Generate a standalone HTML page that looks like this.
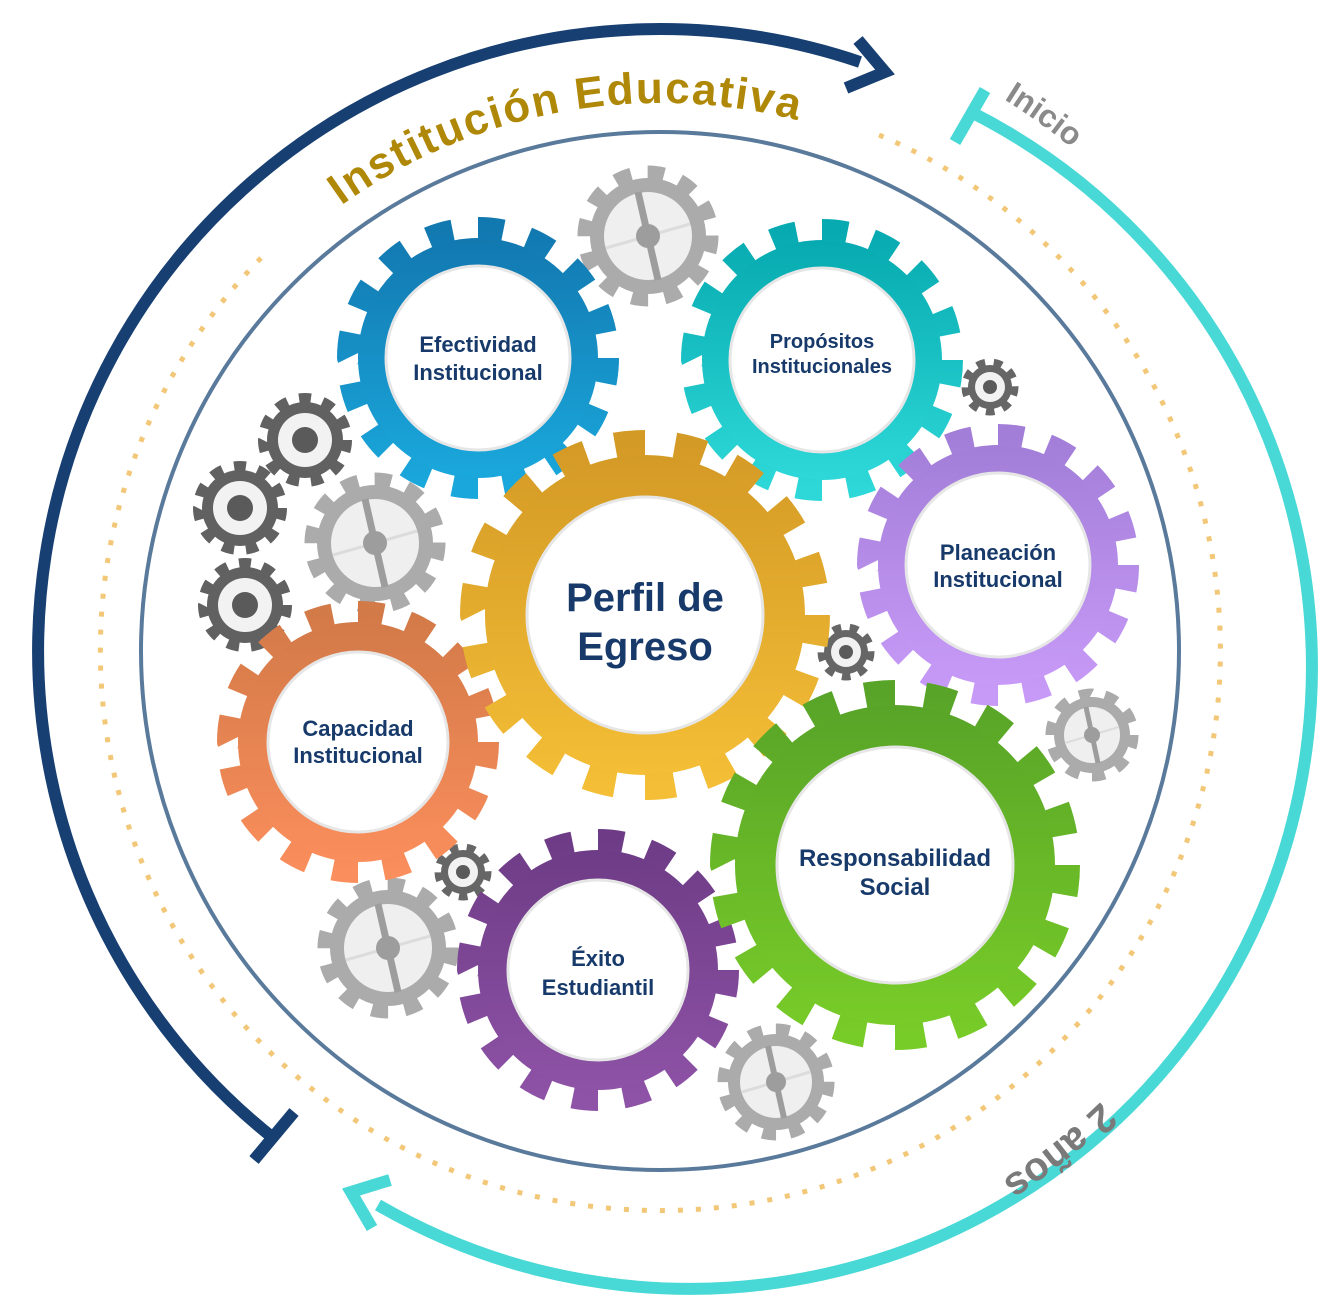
<!DOCTYPE html>
<html><head><meta charset="utf-8"><style>
html,body{margin:0;padding:0;background:#fff;}
svg{display:block;}
text{font-family:"Liberation Sans",sans-serif;}
.lb{fill:#173a6b;font-weight:bold;text-anchor:middle;}
</style></head><body>
<svg width="1320" height="1307" viewBox="0 0 1320 1307" xmlns="http://www.w3.org/2000/svg">
<defs>
<linearGradient id="gGold" x1="0" y1="0" x2="0" y2="1"><stop offset="0" stop-color="#d49a26"/><stop offset="1" stop-color="#f4be36"/></linearGradient>
<linearGradient id="gBlue" x1="0" y1="0" x2="0" y2="1"><stop offset="0" stop-color="#1278b0"/><stop offset="1" stop-color="#1aa8dc"/></linearGradient>
<linearGradient id="gTeal" x1="0" y1="0" x2="0" y2="1"><stop offset="0" stop-color="#06aab0"/><stop offset="1" stop-color="#2ed8d8"/></linearGradient>
<linearGradient id="gPurp" x1="0" y1="0" x2="0" y2="1"><stop offset="0" stop-color="#a27ed8"/><stop offset="1" stop-color="#c89af8"/></linearGradient>
<linearGradient id="gOr" x1="0" y1="0" x2="0" y2="1"><stop offset="0" stop-color="#d27a48"/><stop offset="1" stop-color="#fa8e5c"/></linearGradient>
<linearGradient id="gGr" x1="0" y1="0" x2="0" y2="1"><stop offset="0" stop-color="#58a428"/><stop offset="1" stop-color="#78cc28"/></linearGradient>
<linearGradient id="gVi" x1="0" y1="0" x2="0" y2="1"><stop offset="0" stop-color="#6e3c86"/><stop offset="1" stop-color="#8e52a6"/></linearGradient>
<path id="pTitle" d="M338,208 A548,548 0 0 1 934,176" fill="none"/>
<path id="pInicio" d="M985,88 A650,650 0 0 1 1271,429" fill="none"/>
<path id="pAnos" d="M1143,1056 A630,630 0 0 1 770,1271" fill="none"/>
</defs>

<circle cx="660" cy="651" r="519" fill="none" stroke="#5a7a9c" stroke-width="4"/>
<path d="M879,135 A560,560 0 1 1 267,252" fill="none" stroke="#f2c778" stroke-width="5" stroke-dasharray="5 13"/>

<path d="M277,1141 A622,622 0 0 1 860,62" fill="none" stroke="#173f72" stroke-width="12"/>
<polyline points="858,40 885,72 846,88" fill="none" stroke="#173f72" stroke-width="12" stroke-linejoin="miter"/>
<line x1="294" y1="1112" x2="254" y2="1160" stroke="#173f72" stroke-width="12"/>
<path d="M971,112 A622,622 0 1 1 378,1205" fill="none" stroke="#48d8d6" stroke-width="12"/>
<polyline points="390,1180 351,1192 372,1228" fill="none" stroke="#48d8d6" stroke-width="12"/>
<line x1="955" y1="142" x2="985" y2="90" stroke="#48d8d6" stroke-width="12"/>

<text font-size="44" font-weight="bold" fill="#b08808" letter-spacing="1"><textPath href="#pTitle" startOffset="4" textLength="480">Institución Educativa</textPath></text>
<text font-size="32" fill="#8a8a8a" font-weight="bold"><textPath href="#pInicio" startOffset="22">Inicio</textPath></text>
<text font-size="40" fill="#7a7a7a" font-weight="bold"><textPath href="#pAnos" startOffset="62">2 años</textPath></text>

<g transform="translate(648,236)">
 <circle r="58" fill="#ababab"/><circle r="64" fill="none" stroke="#ababab" stroke-width="13" pathLength="24" stroke-dasharray="1 1"/>
 <circle r="44" fill="#efefef"/><line x1="-10" y1="-44" x2="10" y2="44" stroke="#9d9d9d" stroke-width="7"/><line x1="-42" y1="12" x2="42" y2="-12" stroke="#dcdcdc" stroke-width="3"/><circle r="12" fill="#9d9d9d"/>
</g>
<g transform="translate(375,543)">
 <circle r="58" fill="#ababab"/><circle r="64" fill="none" stroke="#ababab" stroke-width="13" pathLength="24" stroke-dasharray="1 1"/>
 <circle r="44" fill="#efefef"/><line x1="-10" y1="-44" x2="10" y2="44" stroke="#9d9d9d" stroke-width="7"/><line x1="-42" y1="12" x2="42" y2="-12" stroke="#dcdcdc" stroke-width="3"/><circle r="12" fill="#9d9d9d"/>
</g>
<g transform="translate(388,948)">
 <circle r="58" fill="#ababab"/><circle r="64" fill="none" stroke="#ababab" stroke-width="13" pathLength="24" stroke-dasharray="1 1"/>
 <circle r="44" fill="#efefef"/><line x1="-10" y1="-44" x2="10" y2="44" stroke="#9d9d9d" stroke-width="7"/><line x1="-42" y1="12" x2="42" y2="-12" stroke="#dcdcdc" stroke-width="3"/><circle r="12" fill="#9d9d9d"/>
</g>
<g transform="translate(776,1082)">
 <circle r="48" fill="#ababab"/><circle r="53" fill="none" stroke="#ababab" stroke-width="11" pathLength="24" stroke-dasharray="1 1"/>
 <circle r="36" fill="#efefef"/><line x1="-8" y1="-36" x2="8" y2="36" stroke="#9d9d9d" stroke-width="6"/><line x1="-34" y1="10" x2="34" y2="-10" stroke="#dcdcdc" stroke-width="3"/><circle r="10" fill="#9d9d9d"/>
</g>
<g transform="translate(1092,735)">
 <circle r="38" fill="#ababab"/><circle r="42" fill="none" stroke="#ababab" stroke-width="9" pathLength="20" stroke-dasharray="1 1"/>
 <circle r="28" fill="#efefef"/><line x1="-6" y1="-28" x2="6" y2="28" stroke="#9d9d9d" stroke-width="5"/><line x1="-27" y1="8" x2="27" y2="-8" stroke="#dcdcdc" stroke-width="2"/><circle r="8" fill="#9d9d9d"/>
</g>

<g transform="translate(305,440)"><circle r="38" fill="#616161"/><circle r="42" fill="none" stroke="#616161" stroke-width="10" pathLength="22" stroke-dasharray="1 1"/><circle r="27" fill="#f2f2f2"/><circle r="13" fill="#5a5a5a"/></g>
<g transform="translate(240,508)"><circle r="38" fill="#616161"/><circle r="42" fill="none" stroke="#616161" stroke-width="10" pathLength="22" stroke-dasharray="1 1"/><circle r="27" fill="#f2f2f2"/><circle r="13" fill="#5a5a5a"/></g>
<g transform="translate(245,605)"><circle r="38" fill="#616161"/><circle r="42" fill="none" stroke="#616161" stroke-width="10" pathLength="22" stroke-dasharray="1 1"/><circle r="27" fill="#f2f2f2"/><circle r="13" fill="#5a5a5a"/></g>
<g transform="translate(990,387)"><circle r="22" fill="#666"/><circle r="25" fill="none" stroke="#666" stroke-width="7" pathLength="18" stroke-dasharray="1 1"/><circle r="15" fill="#f2f2f2"/><circle r="7" fill="#5a5a5a"/></g>
<g transform="translate(846,652)"><circle r="22" fill="#666"/><circle r="25" fill="none" stroke="#666" stroke-width="7" pathLength="18" stroke-dasharray="1 1"/><circle r="15" fill="#f2f2f2"/><circle r="7" fill="#5a5a5a"/></g>
<g transform="translate(463,872)"><circle r="22" fill="#666"/><circle r="25" fill="none" stroke="#666" stroke-width="7" pathLength="18" stroke-dasharray="1 1"/><circle r="15" fill="#f2f2f2"/><circle r="7" fill="#5a5a5a"/></g>

<g transform="translate(478,358)"><circle r="120" fill="url(#gBlue)"/><circle r="130" fill="none" stroke="url(#gBlue)" stroke-width="22" pathLength="32" stroke-dasharray="1 1"/><circle r="92" fill="#fff" stroke="#e6e6e6" stroke-width="3"/></g>
<g transform="translate(822,360)"><circle r="120" fill="url(#gTeal)"/><circle r="130" fill="none" stroke="url(#gTeal)" stroke-width="22" pathLength="32" stroke-dasharray="1 1"/><circle r="92" fill="#fff" stroke="#e6e6e6" stroke-width="3"/></g>
<g transform="translate(998,565)"><circle r="120" fill="url(#gPurp)"/><circle r="130" fill="none" stroke="url(#gPurp)" stroke-width="22" pathLength="32" stroke-dasharray="1 1"/><circle r="92" fill="#fff" stroke="#e6e6e6" stroke-width="3"/></g>
<g transform="translate(358,742)"><circle r="120" fill="url(#gOr)"/><circle r="130" fill="none" stroke="url(#gOr)" stroke-width="22" pathLength="32" stroke-dasharray="1 1"/><circle r="90" fill="#fff" stroke="#e6e6e6" stroke-width="3"/></g>
<g transform="translate(598,970)"><circle r="120" fill="url(#gVi)"/><circle r="130" fill="none" stroke="url(#gVi)" stroke-width="22" pathLength="32" stroke-dasharray="1 1"/><circle r="90" fill="#fff" stroke="#e6e6e6" stroke-width="3"/></g>
<g transform="translate(645,615)"><circle r="160" fill="url(#gGold)"/><circle r="172" fill="none" stroke="url(#gGold)" stroke-width="26" pathLength="36" stroke-dasharray="1 1"/><circle r="118" fill="#fff" stroke="#e6e6e6" stroke-width="3"/></g>
<g transform="translate(895,865)"><circle r="160" fill="url(#gGr)"/><circle r="172" fill="none" stroke="url(#gGr)" stroke-width="26" pathLength="36" stroke-dasharray="1 1"/><circle r="118" fill="#fff" stroke="#e6e6e6" stroke-width="3"/></g>

<text class="lb" font-size="22" x="478" y="352">Efectividad</text>
<text class="lb" font-size="22" x="478" y="380">Institucional</text>
<text class="lb" font-size="20" x="822" y="348">Propósitos</text>
<text class="lb" font-size="20" x="822" y="373">Institucionales</text>
<text class="lb" font-size="22" x="998" y="560">Planeación</text>
<text class="lb" font-size="22" x="998" y="587">Institucional</text>
<text class="lb" font-size="22" x="358" y="736">Capacidad</text>
<text class="lb" font-size="22" x="358" y="763">Institucional</text>
<text class="lb" font-size="24" x="895" y="866">Responsabilidad</text>
<text class="lb" font-size="24" x="895" y="895">Social</text>
<text class="lb" font-size="22" x="598" y="966">Éxito</text>
<text class="lb" font-size="22" x="598" y="995">Estudiantil</text>
<text class="lb" font-size="40" x="645" y="611">Perfil de</text>
<text class="lb" font-size="40" x="645" y="660">Egreso</text>
</svg>
</body></html>
